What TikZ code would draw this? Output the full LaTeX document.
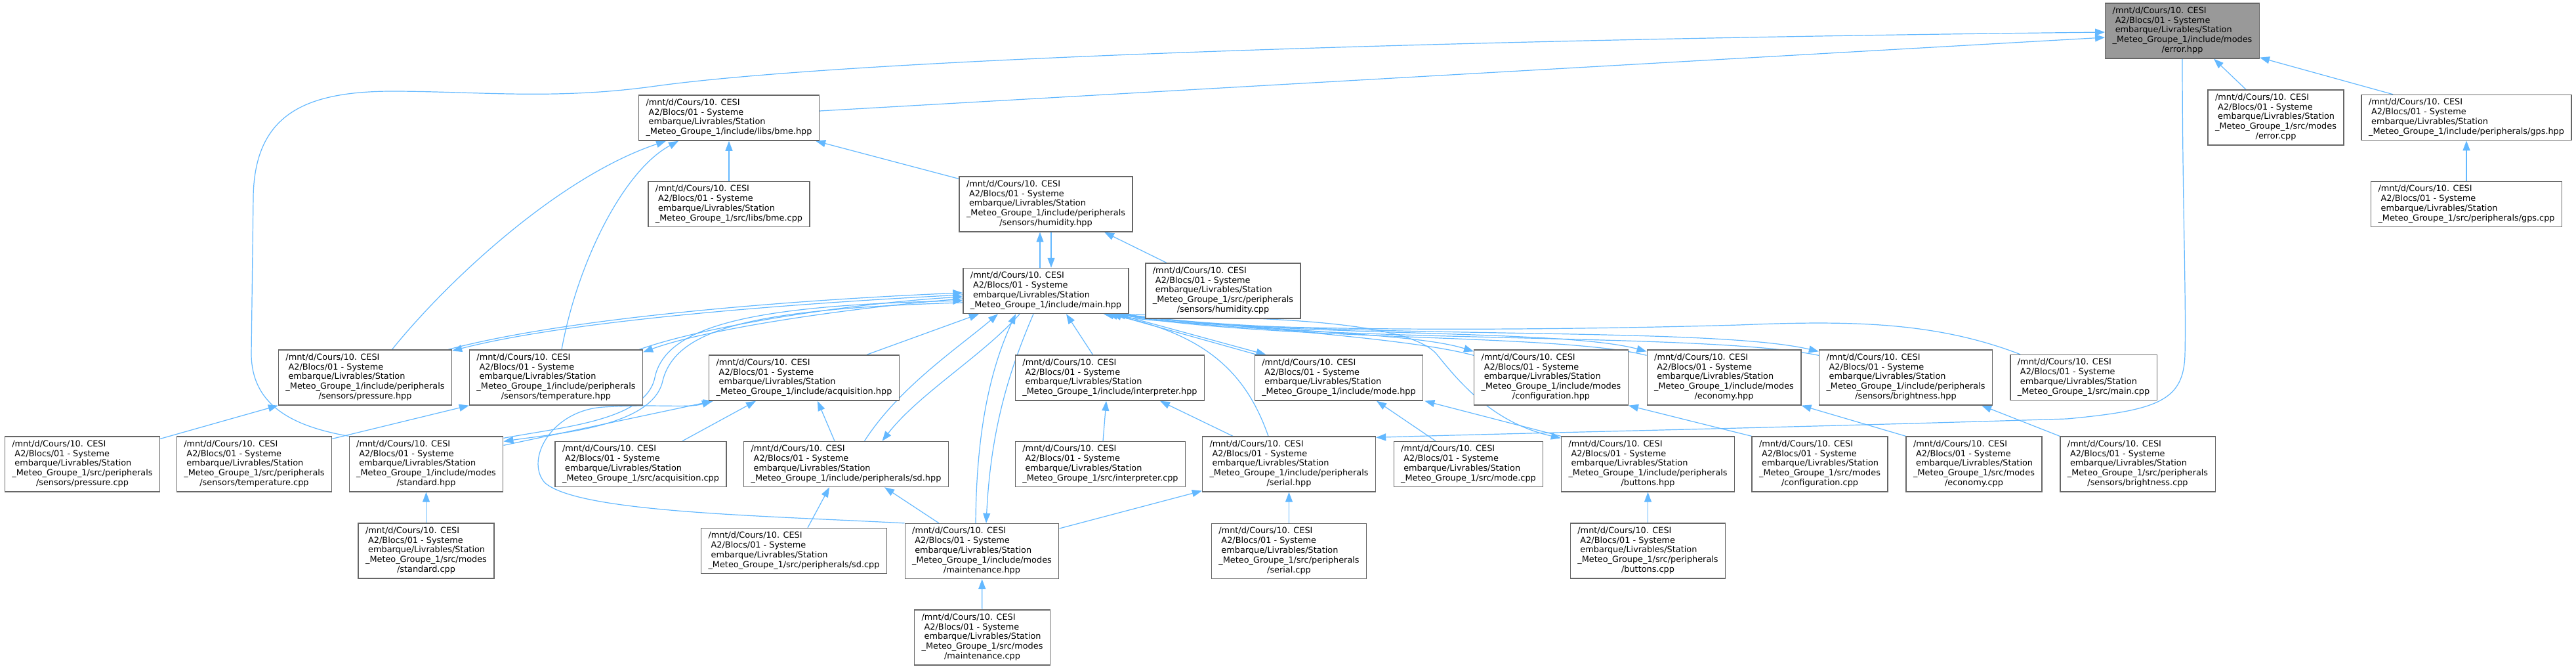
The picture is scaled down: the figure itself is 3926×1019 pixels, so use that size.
\documentclass[tikz,border=0pt]{standalone}
\usepackage{fontspec}
\usepackage{tikz}
\usetikzlibrary{arrows.meta,backgrounds}
\newfontfamily\doxfont{DejaVu Sans}
\definecolor{edgeblue}{HTML}{63B8FF}
\definecolor{boxgray}{HTML}{666666}
\definecolor{rootgray}{HTML}{999999}
\newcommand{\pathhead}{/mnt/d/Cours/10. CESI\\ \ A2/Blocs/01 - Systeme\\ \ embarque/Livrables/Station\\}
\newcommand{\mg}{\_Meteo\_Groupe\_1/}
\newcommand{\fourline}[1]{\begin{tabular}{@{}l@{}}\pathhead\mg #1\end{tabular}}
\newcommand{\fiveline}[2]{\begin{tabular}{@{}l@{}}\pathhead\mg #1\\ \multicolumn{1}{@{}c@{}}{#2}\end{tabular}}
\tikzset{
  filebox/.style={draw=boxgray, line width=1.3pt, fill=white, inner xsep=11pt, inner ysep=5pt,
    font=\doxfont\fontsize{12.85pt}{14.8pt}\selectfont},
  rootbox/.style={filebox, fill=rootgray},
  incl/.style={draw=edgeblue, line width=1.2pt, -{Triangle[length=15pt,width=11pt]}}
}
\begin{document}
\begin{tikzpicture}[x=1pt,y=-1pt]
  \useasboundingbox (0,0) rectangle (3926,1019);
  % files
  \node[rootbox] (errorhpp) at (3326,47) {\fiveline{include/modes}{/error.hpp}};
  \node[filebox] (bmehpp) at (1111,179.5) {\fourline{include/libs/bme.hpp}};
  \node[filebox] (errorcpp) at (3468.5,179) {\fiveline{src/modes}{/error.cpp}};
  \node[filebox] (gpshpp) at (3759,179) {\fourline{include/peripherals/gps.hpp}};
  \node[filebox] (bmecpp) at (1111,311) {\fourline{src/libs/bme.cpp}};
  \node[filebox] (humidityhpp) at (1594,311) {\fiveline{include/peripherals}{/sensors/humidity.hpp}};
  \node[filebox] (gpscpp) at (3759,311) {\fourline{src/peripherals/gps.cpp}};
  \node[filebox] (mainhpp) at (1594,443) {\fourline{include/main.hpp}};
  \node[filebox] (humiditycpp) at (1864,443) {\fiveline{src/peripherals}{/sensors/humidity.cpp}};
  \node[filebox] (pressurehpp) at (556.5,575) {\fiveline{include/peripherals}{/sensors/pressure.hpp}};
  \node[filebox] (temperaturehpp) at (847.5,575) {\fiveline{include/peripherals}{/sensors/temperature.hpp}};
  \node[filebox] (acquisitionhpp) at (1225.5,575.5) {\fourline{include/acquisition.hpp}};
  \node[filebox] (interpreterhpp) at (1691.5,575.5) {\fourline{include/interpreter.hpp}};
  \node[filebox] (modehpp) at (2040.5,575.5) {\fourline{include/mode.hpp}};
  \node[filebox] (configurationhpp) at (2364,575) {\fiveline{include/modes}{/configuration.hpp}};
  \node[filebox] (economyhpp) at (2627.5,575) {\fiveline{include/modes}{/economy.hpp}};
  \node[filebox] (brightnesshpp) at (2904.5,575) {\fiveline{include/peripherals}{/sensors/brightness.hpp}};
  \node[filebox] (maincpp) at (3175.5,575) {\fourline{src/main.cpp}};
  \node[filebox] (pressurecpp) at (125.5,707) {\fiveline{src/peripherals}{/sensors/pressure.cpp}};
  \node[filebox] (temperaturecpp) at (387.5,707) {\fiveline{src/peripherals}{/sensors/temperature.cpp}};
  \node[filebox] (standardhpp) at (649.5,707) {\fiveline{include/modes}{/standard.hpp}};
  \node[filebox] (acquisitioncpp) at (976.5,707) {\fourline{src/acquisition.cpp}};
  \node[filebox] (sdhpp) at (1289.5,707) {\fourline{include/peripherals/sd.hpp}};
  \node[filebox] (interpretercpp) at (1677,707) {\fourline{src/interpreter.cpp}};
  \node[filebox] (serialhpp) at (1964.5,707) {\fiveline{include/peripherals}{/serial.hpp}};
  \node[filebox] (modecpp) at (2238,707) {\fourline{src/mode.cpp}};
  \node[filebox] (buttonshpp) at (2511.5,707) {\fiveline{include/peripherals}{/buttons.hpp}};
  \node[filebox] (configurationcpp) at (2773.5,707) {\fiveline{src/modes}{/configuration.cpp}};
  \node[filebox] (economycpp) at (3008.5,707) {\fiveline{src/modes}{/economy.cpp}};
  \node[filebox] (brightnesscpp) at (3258,707) {\fiveline{src/peripherals}{/sensors/brightness.cpp}};
  \node[filebox] (standardcpp) at (649.5,839) {\fiveline{src/modes}{/standard.cpp}};
  \node[filebox] (sdcpp) at (1210,839) {\fourline{src/peripherals/sd.cpp}};
  \node[filebox] (maintenancehpp) at (1496.5,839.5) {\fiveline{include/modes}{/maintenance.hpp}};
  \node[filebox] (serialcpp) at (1964.5,839.5) {\fiveline{src/peripherals}{/serial.cpp}};
  \node[filebox] (buttonscpp) at (2511.5,839) {\fiveline{src/peripherals}{/buttons.cpp}};
  \node[filebox] (maintenancecpp) at (1497,971) {\fiveline{src/modes}{/maintenance.cpp}};
  % include edges
  \begin{scope}[on background layer]
  \draw[incl] ([yshift=10.5pt]bmehpp.east) -- ([yshift=-10pt]errorhpp.west);
  \draw[incl] (standardhpp.north west) .. controls (450,650) and (384,620) .. (383,540) -- (386,300)
    .. controls (388,170) and (470,138) .. (606,139) .. controls (740,140) and (850,152) .. (1000,131)
    .. controls (1300,90) and (2200,60) .. ([yshift=-2pt]errorhpp.west);
  \draw[incl] ([xshift=-45.5pt]errorcpp.north) -- ([xshift=48pt]errorhpp.south);
  \draw[incl] ([xshift=-112pt]gpshpp.north) -- ([yshift=2pt]errorhpp.south east);
  \draw[incl] (errorhpp.south) .. controls (3326,300) and (3332,450) .. (3330,540)
    .. controls (3328,610) and (3290,625) .. (3150,638)
    .. controls (2700,652) and (2300,660) .. ([yshift=-2pt]serialhpp.north east);
  \draw[incl] (gpscpp) -- (gpshpp);
  \draw[incl] (bmecpp) -- (bmehpp);
  \draw[incl] ([yshift=-4pt]humidityhpp.north west) -- ([xshift=-6pt]bmehpp.south east);
  \draw[incl] ([xshift=41pt]pressurehpp.north) .. controls (680,430) and (850,270) .. ([xshift=-96pt]bmehpp.south);
  \draw[incl] ([xshift=8.5pt]temperaturehpp.north) .. controls (880,400) and (950,260) .. ([xshift=-77pt]bmehpp.south);
  \draw[incl] ([xshift=-9pt]mainhpp.north) -- ([xshift=-9pt]humidityhpp.south);
  \draw[incl] ([xshift=8pt]humidityhpp.south) -- ([xshift=8pt]mainhpp.north);
  \draw[incl] ([xshift=-86pt]humiditycpp.north) -- ([xshift=89pt]humidityhpp.south);
  \draw[incl] ([yshift=-6pt]mainhpp.west) .. controls (1250,460) and (880,485) .. ([yshift=-2pt]pressurehpp.north east);
  \draw[incl] ([xshift=-6pt]pressurehpp.north east) .. controls (880,480) and (1250,455) .. ([yshift=-3pt]mainhpp.west);
  \draw[incl] ([yshift=-12pt]mainhpp.west) .. controls (1300,468) and (1080,500) .. ([yshift=-4pt]temperaturehpp.north east);
  \draw[incl] ([xshift=-6pt]temperaturehpp.north east) .. controls (1080,495) and (1300,462) .. ([yshift=-9pt]mainhpp.west);
  \draw[incl] ([yshift=-18pt]mainhpp.west) .. controls (1150,470) and (1030,500) .. (1010,580)
    .. controls (995,650) and (850,660) .. ([yshift=-8pt]standardhpp.north east);
  \draw[incl] ([yshift=-3pt]standardhpp.north east) .. controls (860,650) and (985,640) .. (998,575)
    .. controls (1015,495) and (1150,465) .. ([yshift=-15pt]mainhpp.west);
  \draw[incl] ([yshift=-14pt]standardhpp.north east) -- ([xshift=7pt]acquisitionhpp.south west);
  \draw[incl] (maintenancehpp.north west) .. controls (1150,785) and (880,780) .. (830,735)
    .. controls (800,700) and (840,625) .. (920,620) .. controls (1000,615) and (1050,622) .. ([xshift=5pt]acquisitionhpp.south west);
  \draw[incl] ([xshift=63.5pt]acquisitioncpp.north) -- ([xshift=-73.5pt]acquisitionhpp.south);
  \draw[incl] ([xshift=-17.5pt]sdhpp.north) -- ([xshift=20.5pt]acquisitionhpp.south);
  \draw[incl] ([xshift=95.5pt]acquisitionhpp.north) -- ([xshift=-102pt]mainhpp.south);
  \draw[incl] ([xshift=28pt]sdhpp.north) .. controls (1370,590) and (1460,530) .. ([xshift=-73pt]mainhpp.south);
  \draw[incl] ([xshift=-40pt]mainhpp.south) .. controls (1500,540) and (1400,600) .. ([xshift=55pt]sdhpp.north);
  \draw[incl] ([xshift=21pt]sdcpp.north) -- ([xshift=-25.5pt]sdhpp.south);
  \draw[incl] ([xshift=-65.5pt]maintenancehpp.north) -- ([xshift=58.5pt]sdhpp.south);
  \draw[incl] ([xshift=-19pt]mainhpp.south) .. controls (1540,560) and (1510,650) .. ([xshift=6.5pt]maintenancehpp.north);
  \draw[incl] ([xshift=-9.5pt]maintenancehpp.north) .. controls (1488,640) and (1515,550) .. ([xshift=-46pt]mainhpp.south);
  \draw[incl] (maintenancecpp) -- (maintenancehpp);
  \draw[incl] ([yshift=34.5pt]maintenancehpp.east) -- ([yshift=2pt]serialhpp.south west);
  \draw[incl] (serialcpp) -- (serialhpp);
  \draw[incl] ([xshift=-26pt]interpreterhpp.north) -- ([xshift=31pt]mainhpp.south);
  \draw[incl] ([xshift=4pt]interpretercpp.north) -- ([xshift=-5.5pt]interpreterhpp.south);
  \draw[incl] ([xshift=-85.5pt]serialhpp.north) -- ([xshift=76.5pt]interpreterhpp.south);
  \draw[incl] ([xshift=-31.5pt]serialhpp.north) .. controls (1900,570) and (1840,510) .. ([xshift=94pt]mainhpp.south);
  \draw[incl] ([xshift=108pt]mainhpp.south) -- ([xshift=-111pt]modehpp.north);
  \draw[incl] ([xshift=-125pt]modehpp.north) -- ([xshift=100pt]mainhpp.south);
  \draw[incl] ([xshift=-50pt]modecpp.north) -- ([xshift=57.5pt]modehpp.south);
  \draw[incl] (buttonshpp.north west) -- ([xshift=2pt]modehpp.south east);
  \draw[incl] ([xshift=116pt]mainhpp.south) .. controls (1850,485) and (2140,480) .. (2190,540)
    .. controls (2230,590) and (2280,645) .. ([yshift=-3pt]buttonshpp.north west);
  \draw[incl] (buttonscpp) -- (buttonshpp);
  \draw[incl] ([xshift=112pt]mainhpp.south) .. controls (1900,505) and (2150,505) .. ([yshift=-3pt]configurationhpp.north west);
  \draw[incl] ([yshift=-9pt]configurationhpp.north west) .. controls (2150,515) and (1900,500) .. ([xshift=104pt]mainhpp.south);
  \draw[incl] ([xshift=114pt]mainhpp.south) .. controls (1950,515) and (2380,500) .. ([yshift=-3pt]economyhpp.north west);
  \draw[incl] ([yshift=-9pt]economyhpp.north west) .. controls (2380,508) and (1950,520) .. ([xshift=106pt]mainhpp.south);
  \draw[incl] ([xshift=118pt]mainhpp.south) .. controls (2000,520) and (2600,495) .. ([yshift=-3pt]brightnesshpp.north west);
  \draw[incl] ([yshift=-9pt]brightnesshpp.north west) .. controls (2600,505) and (2000,525) .. ([xshift=110pt]mainhpp.south);
  \draw[incl] (configurationcpp.north west) -- (configurationhpp.south east);
  \draw[incl] (economycpp.north west) -- (economyhpp.south east);
  \draw[incl] (brightnesscpp.north west) -- ([xshift=-17pt]brightnesshpp.south east);
  \draw[incl] ([xshift=-96.5pt]maincpp.north) .. controls (2950,490) and (2820,488) .. (2650,495)
    .. controls (2300,505) and (1850,505) .. ([xshift=88pt]mainhpp.south);
  \draw[incl] ([yshift=-4pt]pressurecpp.north east) -- (pressurehpp.south west);
  \draw[incl] ([yshift=-4pt]temperaturecpp.north east) -- (temperaturehpp.south west);
  \draw[incl] (standardcpp) -- (standardhpp);
  \end{scope}
\end{tikzpicture}
\end{document}
